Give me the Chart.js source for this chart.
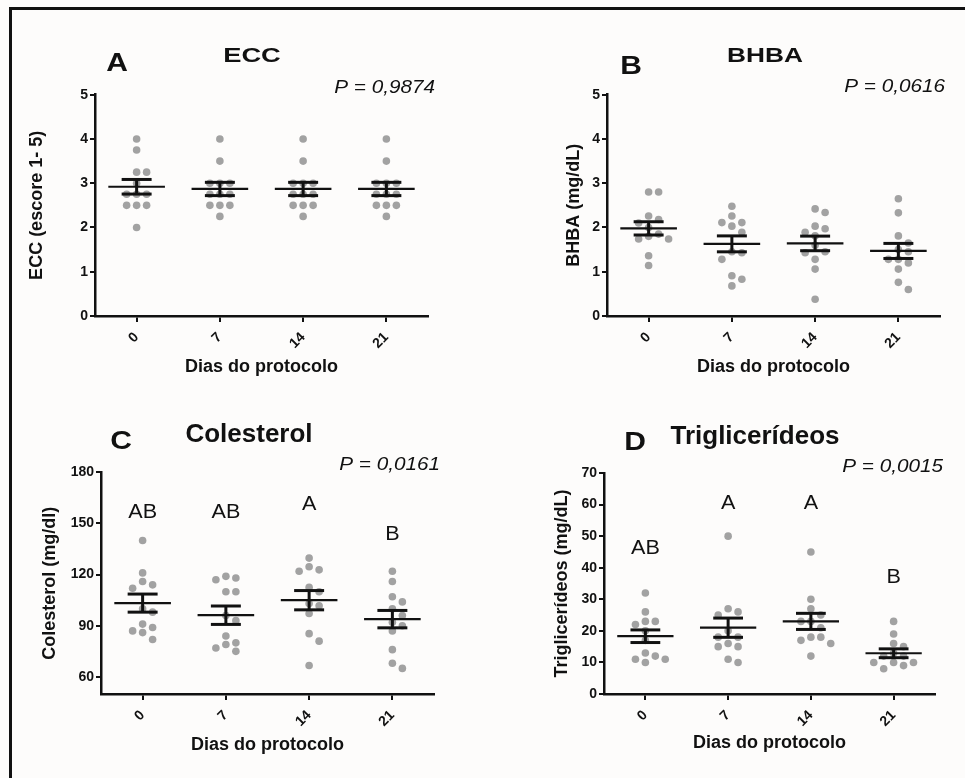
<!DOCTYPE html>
<html>
<head>
<meta charset="utf-8">
<title>Perfil metabólico</title>
<script src="https://cdn.jsdelivr.net/npm/chart.js"></script>
<style>
  body { margin: 0; background: #fdfcfb; }
  #moldura { position: absolute; left: 9px; top: 7px; width: 1000px; height: 800px;
             border-top: 3px solid #111; border-left: 3px solid #111; }
  canvas { position: absolute; }
</style>
</head>
<body>
<div id="moldura"></div>
<canvas id="chartA" width="440" height="370" style="left:20px;top:20px"></canvas>
<canvas id="chartB" width="440" height="370" style="left:520px;top:20px"></canvas>
<canvas id="chartC" width="440" height="370" style="left:20px;top:400px"></canvas>
<canvas id="chartD" width="440" height="370" style="left:520px;top:400px"></canvas>

<script>
// dias do protocolo
const days = ['0', '7', '14', '21'];

// ECC (escore 1-5), um array por dia
const ecc = [
    [4, 3.75, 3.25, 3.25, 3, 2.75, 2.75, 2.75, 2.5, 2.5, 2.5, 2],
    [4, 3.5, 3, 3, 3, 2.75, 2.75, 2.75, 2.5, 2.5, 2.5, 2.25],
    [4, 3.5, 3, 3, 3, 2.75, 2.75, 2.75, 2.5, 2.5, 2.5, 2.25],
    [4, 3.5, 3, 3, 3, 2.75, 2.75, 2.75, 2.5, 2.5, 2.5, 2.25]
];
const eccMean = [2.92, 2.87, 2.87, 2.87];
const eccSem = [0.165, 0.15, 0.15, 0.15];

// BHBA (mg/dL)
const bhba = [
    [2.8, 2.8, 2.26, 2.18, 2.1, 2.0, 1.85, 1.8, 1.74, 1.74, 1.36, 1.14],
    [2.48, 2.26, 2.11, 2.11, 2.03, 1.89, 1.45, 1.43, 1.28, 0.91, 0.83, 0.68],
    [2.42, 2.34, 2.03, 1.97, 1.89, 1.81, 1.6, 1.45, 1.43, 1.28, 1.06, 0.38],
    [2.65, 2.33, 1.81, 1.65, 1.5, 1.45, 1.28, 1.28, 1.2, 1.06, 0.76, 0.6]
];
const bhbaMean = [1.98, 1.63, 1.64, 1.47];
const bhbaSem = [0.15, 0.18, 0.165, 0.17];

// Colesterol (mg/dl)
const colesterol = [
    [140, 121, 116, 114, 112, 100, 98, 91, 89, 87, 86, 82],
    [119, 118, 117, 110, 110, 93, 96, 84, 80, 79, 77, 75],
    [129.7, 124.6, 122.8, 122, 112.5, 110, 103, 101.7, 97.2, 85.4, 81, 66.7],
    [122, 116, 107, 104, 100, 96, 92, 90, 87, 76, 68, 65]
];
const colMean = [103.3, 96.2, 105.0, 93.9];
const colSem = [5.3, 5.4, 5.65, 5.1];
const colLetters = ['AB', 'AB', 'A', 'B'];

// Triglicerídeos (mg/dL)
const triglicerideos = [
    [32, 26, 23, 23, 22, 20, 17, 13, 12, 11, 11, 10],
    [50, 27, 26, 25, 20, 18, 18, 16, 15, 15, 11, 10],
    [45, 30, 27, 25, 23, 23, 21, 18, 18, 17, 16, 12],
    [23, 19, 16, 15, 12, 13, 12, 10, 10, 10, 9, 8]
];
const triMean = [18.3, 21.0, 23.0, 12.9];
const triSem = [2.0, 3.05, 2.55, 1.4];
const triLetters = ['AB', 'A', 'A', 'B'];

const FONT = 'Arial, "Liberation Sans", sans-serif';
Chart.defaults.font.family = FONT;
Chart.defaults.color = '#111';

// espalha os pontos de cada dia como no GraphPad (enxame simples)
function enxame(grupos, unidPorPx) {
    const pontos = [];
    grupos.forEach((vals, i) => {
        const colocados = [];
        [...vals].sort((a, b) => b - a).forEach(v => {
            for (const k of [0, 1, -1, 2, -2, 3, -3]) {
                const livre = colocados.every(p =>
                    Math.hypot((p.k - k) * 10, (p.v - v) / unidPorPx) >= 8.5);
                if (livre) {
                    colocados.push({ k, v });
                    pontos.push({ x: i + k * 0.12, y: v });
                    break;
                }
            }
        });
    });
    return pontos;
}

function texto(ctx, t, x, y, font, align, esticar) {
    ctx.save();
    ctx.translate(x, y);
    ctx.scale(esticar || 1, 1);
    ctx.font = font;
    ctx.textAlign = align;
    ctx.textBaseline = 'middle';
    ctx.fillStyle = '#111';
    ctx.fillText(t, 0, 0);
    ctx.restore();
}

// média ± EPM, letras de significância e títulos
const painelPlugin = {
    id: 'painel',
    afterDatasetsDraw(chart, args, o) {
        const ctx = chart.ctx, x = chart.scales.x, y = chart.scales.y;
        const seg = (x1, y1, x2, y2) => { ctx.beginPath(); ctx.moveTo(x1, y1); ctx.lineTo(x2, y2); ctx.stroke(); };
        ctx.save();
        ctx.strokeStyle = '#111';
        o.media.forEach((m, i) => {
            const cx = x.getPixelForValue(i);
            const meia = x.getPixelForValue(i + 0.34) - cx;
            const cap = x.getPixelForValue(i + 0.18) - cx;
            const ym = y.getPixelForValue(m);
            const yHi = y.getPixelForValue(m + o.epm[i]);
            const yLo = y.getPixelForValue(m - o.epm[i]);
            ctx.lineWidth = 2.2;
            seg(cx - meia, ym, cx + meia, ym);
            ctx.lineWidth = 3;
            seg(cx, yHi, cx, yLo);
            seg(cx - cap, yHi, cx + cap, yHi);
            seg(cx - cap, yLo, cx + cap, yLo);
        });
        ctx.restore();
        if (o.letras) {
            o.letras.forEach((l, i) => {
                texto(ctx, l, x.getPixelForValue(i), y.getPixelForValue(o.letrasY[i]),
                    '20px ' + FONT, 'center', 1.08);
            });
        }
    },
    afterDraw(chart, args, o) {
        const ctx = chart.ctx;
        texto(ctx, o.letra, o.letraPos[0], o.letraPos[1], 'bold 25px ' + FONT, 'center', 1.2);
        texto(ctx, o.titulo, o.tituloPos[0], o.tituloPos[1], 'bold ' + o.tituloSize + 'px ' + FONT, 'center', o.tituloEsticar);
        texto(ctx, o.p, o.pPos[0], o.pPos[1], 'italic 18px ' + FONT, 'right', 1.15);
    }
};

function criarPainel(id, cfg) {
    const faixa = cfg.yMax - cfg.yMin;
    new Chart(document.getElementById(id), {
        type: 'scatter',
        data: {
            datasets: [{
                data: enxame(cfg.valores, faixa / 221),
                pointRadius: 3.8,
                pointHoverRadius: 3.8,
                backgroundColor: '#a2a2a2',
                borderWidth: 0
            }]
        },
        options: {
            responsive: false,
            animation: false,
            layout: { padding: { left: 0, top: cfg.top, right: cfg.right, bottom: 0 } },
            plugins: {
                legend: { display: false },
                tooltip: { enabled: false },
                painel: cfg.painel
            },
            scales: {
                x: {
                    type: 'linear',
                    min: -0.5,
                    max: 3.5,
                    afterBuildTicks: s => { s.ticks = days.map((d, i) => ({ value: i })); },
                    afterFit: s => { s.height = cfg.xHeight; },
                    ticks: {
                        callback: v => days[v],
                        minRotation: 45,
                        maxRotation: 45,
                        padding: 7,
                        font: { size: 14, weight: 'bold' }
                    },
                    grid: { drawOnChartArea: false, tickLength: 6, color: '#111', lineWidth: 2 },
                    border: { color: '#111', width: 2.5 },
                    title: {
                        display: true,
                        text: 'Dias do protocolo',
                        font: { size: 18, weight: 'bold' },
                        padding: { top: 0, bottom: cfg.xTitlePad }
                    }
                },
                y: {
                    min: cfg.yMin,
                    max: cfg.yMax,
                    afterBuildTicks: s => { s.ticks = cfg.yTicks.map(v => ({ value: v })); },
                    afterFit: s => { s.width = cfg.yWidth; },
                    ticks: { padding: 2, font: { size: 14, weight: 'bold' } },
                    grid: { drawOnChartArea: false, tickLength: 5, color: '#111', lineWidth: 2 },
                    border: { color: '#111', width: 2.5 },
                    title: {
                        display: true,
                        text: cfg.yTitle,
                        font: { size: 18, weight: 'bold' },
                        padding: { top: cfg.yTitlePad, bottom: 0 }
                    }
                }
            }
        },
        plugins: [painelPlugin]
    });
}

criarPainel('chartA', {
    valores: ecc, yMin: 0, yMax: 5, yTicks: [0, 1, 2, 3, 4, 5],
    yTitle: 'ECC (escore 1- 5)',
    top: 74.7, right: 32, yWidth: 75, xHeight: 74, xTitlePad: 12.2, yTitlePad: 6.2,
    painel: {
        media: eccMean, epm: eccSem,
        letra: 'A', letraPos: [97, 44],
        titulo: 'ECC', tituloPos: [232, 36], tituloSize: 21, tituloEsticar: 1.3,
        p: 'P = 0,9874', pPos: [415, 68]
    }
});

criarPainel('chartB', {
    valores: bhba, yMin: 0, yMax: 5, yTicks: [0, 1, 2, 3, 4, 5],
    yTitle: 'BHBA (mg/dL)',
    top: 74.7, right: 20, yWidth: 87, xHeight: 74, xTitlePad: 12.2, yTitlePad: 43.2,
    painel: {
        media: bhbaMean, epm: bhbaSem,
        letra: 'B', letraPos: [111, 47],
        titulo: 'BHBA', tituloPos: [245, 36], tituloSize: 21, tituloEsticar: 1.25,
        p: 'P = 0,0616', pPos: [425, 67]
    }
});

criarPainel('chartC', {
    valores: colesterol, yMin: 50, yMax: 180, yTicks: [60, 90, 120, 150, 180],
    yTitle: 'Colesterol (mg/dl)',
    top: 72.3, right: 26, yWidth: 81, xHeight: 76, xTitlePad: 14.2, yTitlePad: 19.2,
    painel: {
        media: colMean, epm: colSem,
        letras: colLetters, letrasY: [156.5, 156.5, 161.2, 143.8],
        letra: 'C', letraPos: [101, 42],
        titulo: 'Colesterol', tituloPos: [229, 35], tituloSize: 26, tituloEsticar: 1,
        p: 'P = 0,0161', pPos: [420, 65]
    }
});

criarPainel('chartD', {
    valores: triglicerideos, yMin: 0, yMax: 70, yTicks: [0, 10, 20, 30, 40, 50, 60, 70],
    yTitle: 'Triglicerídeos (mg/dL)',
    top: 73, right: 25, yWidth: 84, xHeight: 76, xTitlePad: 16.2, yTitlePad: 31.2,
    painel: {
        media: triMean, epm: triSem,
        letras: triLetters, letrasY: [46.2, 60.2, 60.2, 37.0],
        letra: 'D', letraPos: [115, 43],
        titulo: 'Triglicerídeos', tituloPos: [235, 37], tituloSize: 26, tituloEsticar: 1,
        p: 'P = 0,0015', pPos: [423, 67]
    }
});
</script>
</body>
</html>
